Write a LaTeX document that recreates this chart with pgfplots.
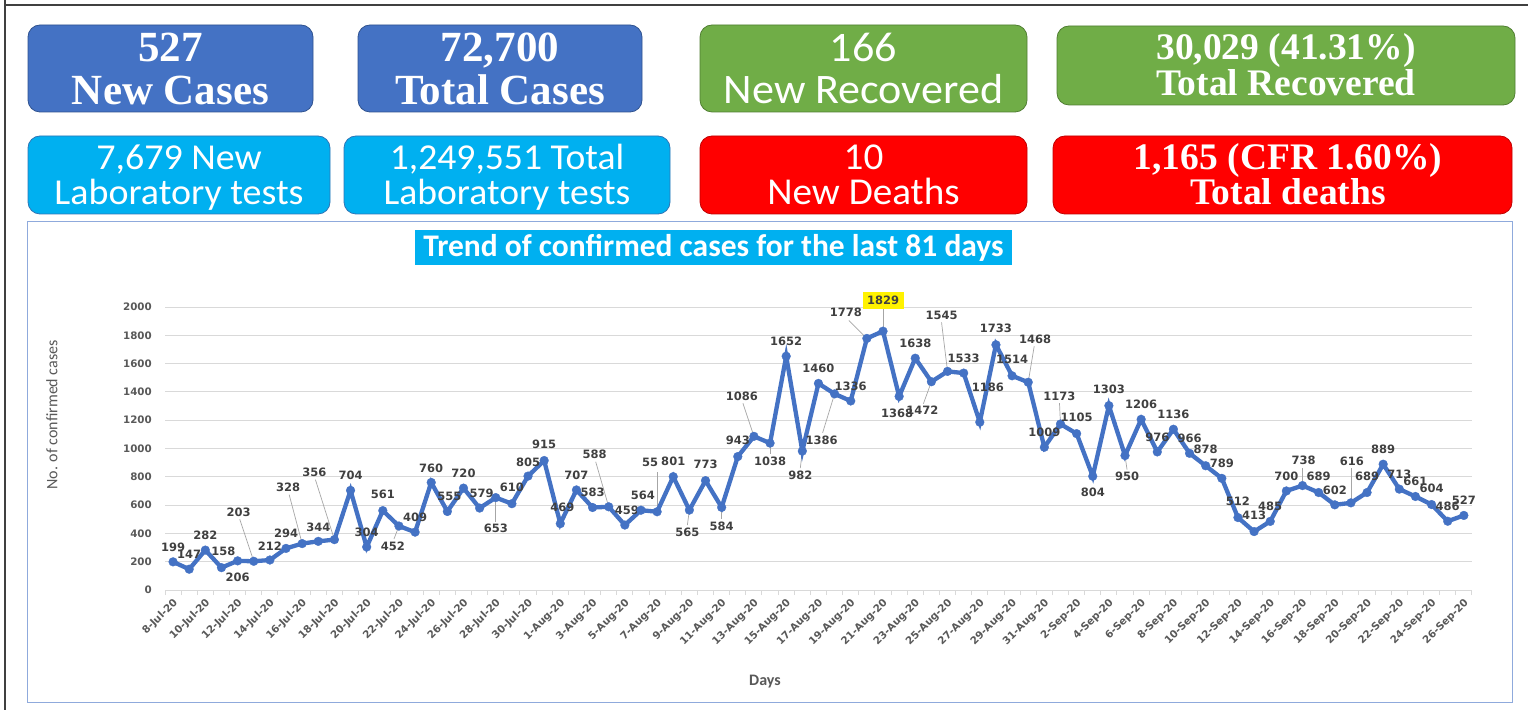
\documentclass[border=0pt]{standalone}
\usepackage{pgfplots}
\pgfplotsset{compat=1.18}
\usepackage{pgfplotstable}
\usepackage{fontspec}
\usepackage{graphicx}
\setmainfont{Carlito}
\newfontfamily\dv{DejaVu Sans}
\newfontfamily\tnr{Liberation Serif}
\definecolor{cblue}{HTML}{4472C4}
\definecolor{cbluedk}{HTML}{2F528F}
\definecolor{ccyan}{HTML}{00B0F0}
\definecolor{ccyandk}{HTML}{2E75B6}
\definecolor{cgreen}{HTML}{70AD47}
\definecolor{cgreendk}{HTML}{507E32}
\definecolor{cred}{HTML}{FF0000}
\definecolor{creddk}{HTML}{C00000}
\definecolor{labgray}{HTML}{404040}
\definecolor{tickgray}{HTML}{595959}
\definecolor{gridgray}{HTML}{D9D9D9}
\definecolor{leadgray}{HTML}{A6A6A6}
\definecolor{framebl}{HTML}{8FAADC}
\newcommand\labfont{\dv\bfseries\fontsize{11.5}{13}\selectfont}

\pgfplotstableread{
i y lbl dx dy lx ly
0 199 199 0 15 0 0
1 147 147 0 15 0 0
2 282 282 0 15 0 0
3 158 158 2 16 0 0
4 206 206 0 -16 0 0
5 203 203 -15 49 -14 42
6 212 212 0 14 0 0
7 294 294 0 15 0 0
8 328 328 -14 56 -13 49
9 344 344 0 14 0 0
10 356 356 -20 67 -19 60
11 704 704 0 15 0 0
12 304 304 0 15 0 0
13 561 561 0 16 0 0
14 452 452 -6 -20 -5 -13
15 409 409 0 15 0 0
16 760 760 0 14 0 0
17 555 555 2 15 0 0
18 720 720 0 15 0 0
19 579 579 2 15 0 0
20 653 653 0 -31 0 -24
21 610 610 0 16 0 0
22 805 805 0 14 0 0
23 915 915 0 16 0 0
24 469 469 2 16 0 0
25 707 707 0 15 0 0
26 583 583 0 15 0 0
27 588 588 -14 52 -13 45
28 459 459 2 15 0 0
29 564 564 2 15 0 0
30 553 55 -7 49 0 40
31 801 801 0 15 0 0
32 565 565 -2 -22 -2 -15
33 773 773 0 16 0 0
34 584 584 0 -19 0 -12
35 943 943 0 16 0 0
36 1086 1086 -12 40 -11 33
37 1038 1038 0 -18 0 -11
38 1652 1652 0 15 0 0
39 982 982 -2 -24 -2 -17
40 1460 1460 0 15 0 0
41 1386 1386 -13 -46 -12 -39
42 1336 1336 0 15 0 0
43 1778 1778 -21 26 -18 18
44 1829 1829 0 31 0 22
45 1368 1368 -2 -17 0 0
46 1638 1638 0 15 0 0
47 1472 1472 -9 -29 -8 -22
48 1545 1545 -6 56 -6 49
49 1533 1533 0 15 0 0
50 1186 1186 8 35 7 28
51 1733 1733 0 16 0 0
52 1514 1514 0 16 0 0
53 1468 1468 7 43 6 36
54 1009 1009 0 15 0 0
55 1173 1173 -1 28 -1 21
56 1105 1105 0 16 0 0
57 804 804 0 -16 0 0
58 1303 1303 0 16 0 0
59 950 950 2 -21 2 -14
60 1206 1206 0 15 0 0
61 976 976 0 15 0 0
62 1136 1136 0 15 0 0
63 966 966 0 15 0 0
64 878 878 0 16 0 0
65 789 789 0 15 0 0
66 512 512 0 16 0 0
67 413 413 0 16 0 0
68 485 485 0 15 0 0
69 700 700 0 15 0 0
70 738 738 1 25 0 18
71 689 689 0 16 0 0
72 602 602 0 15 0 0
73 616 616 1 42 0 35
74 689 689 0 16 0 0
75 889 889 0 15 0 0
76 713 713 0 15 0 0
77 661 661 0 15 0 0
78 604 604 0 16 0 0
79 486 486 0 15 0 0
80 527 527 0 15 0 0
}\data

\begin{document}
\begin{tikzpicture}[x=1pt,y=1pt]
\path[use as bounding box] (0,0) rectangle (1528,710);
\fill[white] (0,0) rectangle (1528,710);
% outer frame lines
\draw[labgray, line width=2pt] (5,710) -- (5,705) -- (1528,705);
\draw[labgray, line width=2pt] (5,705) -- (5,0);
% chart frame
\draw[framebl, line width=1pt] (27,8) rectangle (1512,488);
% title
\node[fill=ccyan, minimum width=597pt, minimum height=35pt, inner sep=0pt, text=white,
  font=\bfseries\fontsize{31.5}{34}\selectfont] at (713.5,462.5) {Trend of confirmed cases for the last 81 days};

% boxes row 1
\draw[fill=cblue, draw=cbluedk, line width=0.8pt, rounded corners=12pt] (28,598) rectangle (313,685);
\draw[fill=cblue, draw=cbluedk, line width=0.8pt, rounded corners=12pt] (358,598) rectangle (642,685);
\draw[fill=cgreen, draw=cgreendk, line width=0.8pt, rounded corners=12pt] (700,598) rectangle (1027,685);
\draw[fill=cgreen, draw=cgreendk, line width=0.8pt, rounded corners=12pt] (1057,605) rectangle (1515,684);
% boxes row 2
\draw[fill=ccyan, draw=ccyandk, line width=0.8pt, rounded corners=12pt] (28,496) rectangle (330,574);
\draw[fill=ccyan, draw=ccyandk, line width=0.8pt, rounded corners=12pt] (344,496) rectangle (670,574);
\draw[fill=cred, draw=creddk, line width=0.8pt, rounded corners=12pt] (700,496) rectangle (1027,574);
\draw[fill=cred, draw=creddk, line width=0.8pt, rounded corners=12pt] (1053,496) rectangle (1512,574);

\begin{scope}[every node/.style={text=white, inner sep=0pt, anchor=base}]
\node[font=\tnr\bfseries\fontsize{43}{45}\selectfont] at (170.5,648) {527};
\node[font=\tnr\bfseries\fontsize{43}{45}\selectfont] at (170.5,605) {New Cases};
\node[font=\tnr\bfseries\fontsize{43}{45}\selectfont] at (500,648) {72,700};
\node[font=\tnr\bfseries\fontsize{43}{45}\selectfont] at (500,605) {Total Cases};
\node[font=\fontsize{42}{44}\selectfont] at (863.5,648) {\scalebox{1.05}[1]{166}};
\node[font=\fontsize{42}{44}\selectfont] at (863.5,606) {\scalebox{1.05}[1]{New Recovered}};
\node[font=\tnr\bfseries\fontsize{37.5}{40}\selectfont] at (1286,650) {30,029 (41.31\%)};
\node[font=\tnr\bfseries\fontsize{37.5}{40}\selectfont] at (1286,614) {Total Recovered};
\node[font=\fontsize{36.5}{38}\selectfont] at (179,540) {\scalebox{1.04}[1]{7,679 New}};
\node[font=\fontsize{36.5}{38}\selectfont] at (179,505) {\scalebox{1.04}[1]{Laboratory tests}};
\node[font=\fontsize{36.5}{38}\selectfont] at (507,540) {\scalebox{1.03}[1]{1,249,551 Total}};
\node[font=\fontsize{36.5}{38}\selectfont] at (507,505) {\scalebox{1.03}[1]{Laboratory tests}};
\node[font=\fontsize{38}{40}\selectfont] at (863.5,540) {\scalebox{1.03}[1]{10}};
\node[font=\fontsize{38}{40}\selectfont] at (863.5,505) {\scalebox{1.03}[1]{New Deaths}};
\node[font=\tnr\bfseries\fontsize{37.5}{40}\selectfont] at (1288,540) {1,165 (CFR 1.60\%)};
\node[font=\tnr\bfseries\fontsize{37.5}{40}\selectfont] at (1288,505) {Total deaths};
\end{scope}

% axis labels
\node[rotate=90, text=tickgray, font=\fontsize{16}{18}\selectfont] at (52,295) {No. of confirmed cases};
\node[text=tickgray, font=\bfseries\fontsize{16}{18}\selectfont] at (765,28) {Days};

\begin{axis}[
  at={(165pt,120pt)}, anchor=south west, scale only axis,
  width=1307pt, height=283pt,
  xmin=-0.5, xmax=80.5, ymin=0, ymax=2000, clip=false,
  axis x line*=bottom, axis y line*=left,
  x axis line style={draw=gridgray, line width=1pt},
  y axis line style={draw=none},
  ytick={0,200,...,2000},
  ymajorgrids, major grid style={draw=gridgray, line width=1pt},
  major tick length=0pt, tick align=outside,
  xtick={0,2,...,80},
  xticklabels={8-Jul-20,10-Jul-20,12-Jul-20,14-Jul-20,16-Jul-20,18-Jul-20,20-Jul-20,22-Jul-20,24-Jul-20,26-Jul-20,28-Jul-20,30-Jul-20,1-Aug-20,3-Aug-20,5-Aug-20,7-Aug-20,9-Aug-20,11-Aug-20,13-Aug-20,15-Aug-20,17-Aug-20,19-Aug-20,21-Aug-20,23-Aug-20,25-Aug-20,27-Aug-20,29-Aug-20,31-Aug-20,2-Sep-20,4-Sep-20,6-Sep-20,8-Sep-20,10-Sep-20,12-Sep-20,14-Sep-20,16-Sep-20,18-Sep-20,20-Sep-20,22-Sep-20,24-Sep-20,26-Sep-20},
  extra x ticks={-0.5,0.5,...,80.5},
  extra x tick labels={},
  extra x tick style={major tick length=5pt, tick style={draw=gridgray, line width=1pt}, grid=none},
  xticklabel style={font=\dv\bfseries\fontsize{10.3}{11}\selectfont, text=tickgray, inner sep=0pt, xshift=3pt, yshift=-11pt, rotate=45, anchor=east},
  yticklabel style={font=\dv\bfseries\fontsize{10.3}{12}\selectfont, text=tickgray, inner sep=0pt, anchor=east, xshift=-13pt},
  /pgf/number format/1000 sep={},
  /pgf/number format/assume math mode=true,
]
% leader lines
\addplot[draw=leadgray, line width=0.7pt, mark=none,
  quiver={u=\thisrow{lx}/16.135, v=\thisrow{ly}*7.0671}]
  table[x=i, y=y] {\data};
% main series
\addplot[cblue, line width=4.3pt, mark=*, mark size=4.4pt,
  mark options={solid, fill=cblue, draw=cblue, line width=0.3pt},
  point meta=explicit symbolic, nodes near coords,
  visualization depends on={\thisrow{dx} \as \ldx},
  visualization depends on={\thisrow{dy} \as \ldy},
  every node near coord/.append style={anchor=center, xshift=\ldx pt, yshift=\ldy pt,
    font=\labfont, text=labgray, inner sep=0pt},
  ] table[x=i, y=y, meta=lbl] {\data};
% highlighted maximum
\addplot[draw=none, mark=none, point meta=explicit symbolic, nodes near coords,
  every node near coord/.append style={anchor=center, yshift=31pt, fill=yellow,
    inner xsep=4.5pt, inner ysep=4pt, font=\labfont, text=labgray}]
  coordinates {(44,1829) [1829]};
\end{axis}
\end{tikzpicture}
\end{document}
